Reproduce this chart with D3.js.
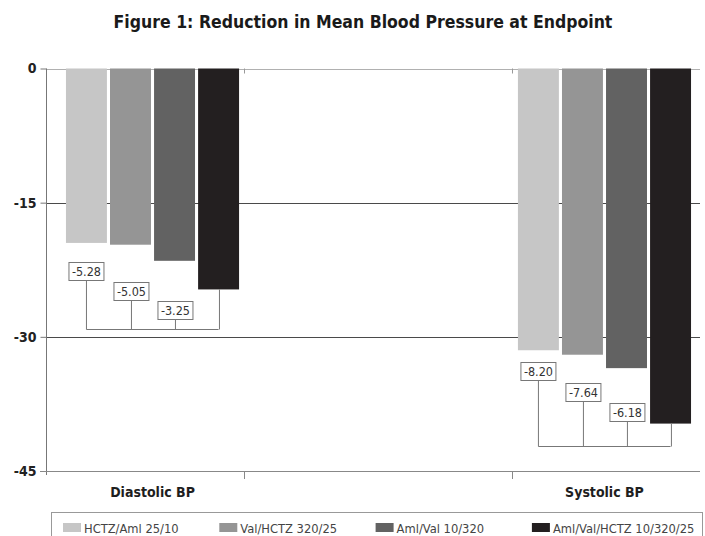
<!DOCTYPE html>
<html>
<head>
<meta charset="utf-8">
<script src="https://cdn.jsdelivr.net/npm/d3@7"></script>
<style>
  body { margin: 0; background: #fff; }
  svg { display: block; font-family: "DejaVu Sans Condensed", "Liberation Sans Narrow", sans-serif; }
</style>
</head>
<body>
<div id="chart"></div>
<script>
// chart data
const categories = ["Diastolic BP", "Systolic BP"]
const series = ["HCTZ/Aml 25/10", "Val/HCTZ 320/25", "Aml/Val 10/320", "Aml/Val/HCTZ 10/320/25"]
const diastolic = [-19.5, -19.7, -21.5, -24.7]
const systolic = [-31.5, -32.0, -33.5, -39.7]
const yTicks = [0, -15, -30, -45]

// difference labels versus the triple combination, and where they sit (in mmHg)
const diffLabels = [["-5.28", "-5.05", "-3.25"], ["-8.20", "-7.64", "-6.18"]]
const diffLevels = [[-21.65, -23.9, -26.0], [-32.8, -35.2, -37.4]]
const bracketLevels = [-29.1, -42.2]

const colors = ["#c6c6c6", "#959595", "#626262", "#231f20"]

var width = 705
var height = 536
var margin = { top: 68.5, bottom: 65, left: 46, right: 5 }

const svg = d3.select("#chart")
  .append("svg")
  .attr("width", width)
  .attr("height", height)

const x = d3.scaleBand()
  .domain(categories)
  .range([margin.left, width - margin.right])
  .paddingInner(0.617)
  .paddingOuter(0.032)
  .align(0.69)

const xs = d3.scaleBand()
  .domain(series)
  .range([0, x.bandwidth()])
  .paddingInner(0.07)

const y = d3.scaleLinear()
  .domain([0, -45])
  .range([margin.top, height - margin.bottom])

const values = [diastolic, systolic]

// title
svg.append("text")
  .attr("x", 363)
  .attr("y", 28)
  .attr("text-anchor", "middle")
  .attr("font-size", 17.5)
  .attr("font-weight", "bold")
  .attr("fill", "#1a1a1a")
  .text("Figure 1: Reduction in Mean Blood Pressure at Endpoint")

// gridlines
svg.append("g")
  .selectAll("line")
  .data(yTicks.slice(0, 3))
  .join("line")
  .attr("x1", margin.left)
  .attr("x2", width - margin.right)
  .attr("y1", d => Math.round(y(d)) + 0.5)
  .attr("y2", d => Math.round(y(d)) + 0.5)
  .attr("stroke", d => d === 0 ? "#b0b0b0" : "#4a4a4a")
  .attr("stroke-width", 1)

// y axis
const yAxis = svg.append("g")
  .attr("transform", `translate(${margin.left + 0.5},0)`)
  .call(d3.axisLeft(y).tickValues(yTicks).tickSize(6).tickPadding(4).tickFormat(d => String(d)))
yAxis.select(".domain").attr("stroke", "#777").attr("d", `M0,${y(0)}V${y(-45) + 4}`)
yAxis.selectAll(".tick line").attr("stroke", "#777")
yAxis.selectAll(".tick text")
  .attr("font-size", 14)
  .attr("font-weight", "bold")
  .attr("fill", "#222")
  .attr("font-family", "DejaVu Sans Condensed, sans-serif")

// bottom axis line and category ticks
const tickXs = [x(categories[0]) + x.bandwidth() + 5, x(categories[1]) - 6]
svg.append("line")
  .attr("x1", margin.left - 6).attr("x2", width - margin.right)
  .attr("y1", Math.round(y(-45)) + 0.5).attr("y2", Math.round(y(-45)) + 0.5)
  .attr("stroke", "#888").attr("stroke-width", 1.2)
svg.append("g")
  .selectAll("line")
  .data(tickXs)
  .join("line")
  .attr("x1", d => Math.round(d) + 0.5).attr("x2", d => Math.round(d) + 0.5)
  .attr("y1", y(-45)).attr("y2", y(-45) + 8)
  .attr("stroke", "#888")
svg.append("g")
  .selectAll("line")
  .data(tickXs)
  .join("line")
  .attr("x1", d => Math.round(d) + 0.5).attr("x2", d => Math.round(d) + 0.5)
  .attr("y1", y(0)).attr("y2", y(0) + 5)
  .attr("stroke", "#999")

// category labels
svg.append("g")
  .selectAll("text")
  .data(categories)
  .join("text")
  .attr("x", d => x(d) + x.bandwidth() / 2)
  .attr("y", 497)
  .attr("text-anchor", "middle")
  .attr("font-size", 14)
  .attr("font-weight", "bold")
  .attr("fill", "#1e1e1e")
  .text(d => d)

// bars
const groups = svg.append("g")
  .selectAll("g")
  .data(categories)
  .join("g")
  .attr("transform", d => `translate(${x(d)},0)`)

groups.selectAll("rect")
  .data((d, i) => values[i].map((v, j) => ({ key: series[j], value: v, idx: j })))
  .join("rect")
  .attr("x", d => xs(d.key))
  .attr("y", y(0))
  .attr("width", xs.bandwidth())
  .attr("height", d => y(d.value) - y(0))
  .attr("fill", d => colors[d.idx])

// brackets and difference labels
groups.each(function (cat, ci) {
  const g = d3.select(this)
  const cx = s => xs(s) + xs.bandwidth() / 2
  const by = Math.round(y(bracketLevels[ci])) + 0.5
  g.append("line")
    .attr("x1", cx(series[0])).attr("x2", cx(series[3]))
    .attr("y1", by).attr("y2", by)
    .attr("stroke", "#777")
  g.append("line")
    .attr("x1", Math.round(cx(series[3])) + 0.5).attr("x2", Math.round(cx(series[3])) + 0.5)
    .attr("y1", y(values[ci][3])).attr("y2", by)
    .attr("stroke", "#777")
  diffLabels[ci].forEach((lab, j) => {
    const top = y(diffLevels[ci][j])
    const lx = Math.round(cx(series[j])) + 0.5
    g.append("line")
      .attr("x1", lx).attr("x2", lx)
      .attr("y1", top + 18).attr("y2", by)
      .attr("stroke", "#777")
    g.append("rect")
      .attr("x", lx - 17.5).attr("y", Math.round(top) + 0.5)
      .attr("width", 35).attr("height", 18)
      .attr("fill", "#fff")
      .attr("stroke", "#777")
    g.append("text")
      .attr("x", lx)
      .attr("y", top + 14)
      .attr("text-anchor", "middle")
      .attr("font-size", 12.5)
      .attr("fill", "#333")
      .text(lab)
  })
})

// legend
svg.append("rect")
  .attr("x", 51.5).attr("y", 512.5)
  .attr("width", 651).attr("height", 40)
  .attr("fill", "none")
  .attr("stroke", "#999")

const legend = svg.append("g")
  .selectAll("g")
  .data(series)
  .join("g")
  .attr("transform", (d, i) => `translate(${63 + i * 156.3},0)`)
legend.append("rect")
  .attr("x", 0).attr("y", 523)
  .attr("width", 18).attr("height", 9)
  .attr("fill", (d, i) => colors[i])
legend.append("text")
  .attr("x", 21).attr("y", 532.5)
  .attr("font-size", 12.8)
  .attr("fill", "#444")
  .text(d => d)
</script>
</body>
</html>
